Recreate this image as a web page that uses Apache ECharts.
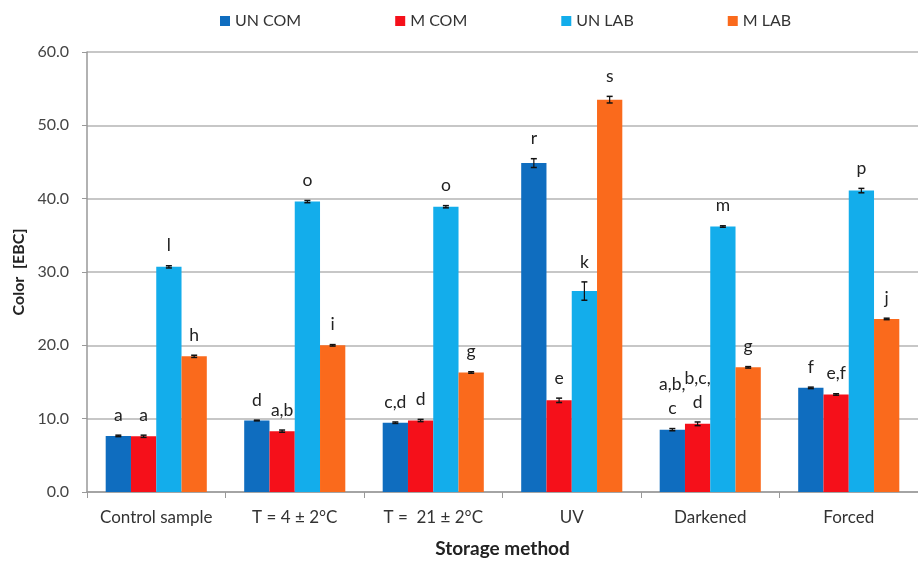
<!DOCTYPE html>
<html>
<head>
<meta charset="utf-8">
<script src="https://cdn.jsdelivr.net/npm/echarts@6/dist/echarts.min.js"></script>
<style>
html,body{margin:0;padding:0;background:#fff;}
#chart{width:918px;height:563px;}
</style>
</head>
<body>
<div id="chart"></div>
<script>
var categories = ['Control sample', 'T = 4 \u00b1 2\u00b0C', 'T =  21 \u00b1 2\u00b0C', 'UV', 'Darkened', 'Forced'];
var seriesNames = ['UN COM', 'M COM', 'UN LAB', 'M LAB'];
var unCom = [7.65, 9.75, 9.45, 44.85, 8.5, 14.2];
var mCom  = [7.6, 8.3, 9.75, 12.5, 9.3, 13.3];
var unLab = [30.7, 39.6, 38.9, 27.4, 36.2, 41.1];
var mLab  = [18.5, 20.0, 16.3, 53.5, 17.0, 23.6];
var unComErr = [0.1, 0.05, 0.1, 0.6, 0.15, 0.1];
var mComErr  = [0.15, 0.15, 0.15, 0.3, 0.25, 0.1];
var unLabErr = [0.15, 0.15, 0.15, 1.25, 0.1, 0.3];
var mLabErr  = [0.15, 0.1, 0.1, 0.45, 0.1, 0.1];
var unComLetters = ['a', 'd', 'c,d', 'r', 'a,b,\nc', 'f'];
var mComLetters  = ['a', 'a,b', 'd', 'e', 'b,c,\nd', 'e,f'];
var unLabLetters = ['l', 'o', 'o', 'k', 'm', 'p'];
var mLabLetters  = ['h', 'i', 'g', 's', 'g', 'j'];
var yTicks = [0, 10, 20, 30, 40, 50, 60];

var colors = ['#0F6DBF', '#F5101A', '#13ADEB', '#FA6A1C'];
var values = [unCom, mCom, unLab, mLab];
var errs = [unComErr, mComErr, unLabErr, mLabErr];
var letters = [unComLetters, mComLetters, unLabLetters, mLabLetters];
var FONT = 'Lato';
var GAP = 0.27;

var series = [];
values.forEach(function (vals, s) {
  series.push({
    name: seriesNames[s],
    type: 'bar',
    data: vals,
    barGap: '0%',
    barCategoryGap: (GAP * 100) + '%',
    itemStyle: { color: colors[s] },
    z: 2
  });
});
values.forEach(function (vals, s) {
  series.push({
    name: seriesNames[s] + ' err',
    type: 'custom',
    z: 5,
    silent: true,
    encode: { x: 0, y: 1 },
    data: vals.map(function (v, i) { return [i, v, errs[s][i]]; }),
    renderItem: function (params, api) {
      var ci = api.value(0), v = api.value(1), e = api.value(2);
      var band = api.size([1, 0])[0];
      var bw = band * (1 - GAP) / 4;
      var off = (s - 1.5) * bw;
      var top = api.coord([ci, v + e]);
      var bot = api.coord([ci, v - e]);
      var x = top[0] + off;
      var cap = 3;
      return {
        type: 'group',
        children: [
          { type: 'line', shape: { x1: x, y1: top[1], x2: x, y2: bot[1] }, style: { stroke: '#111', lineWidth: 1.2 } },
          { type: 'line', shape: { x1: x - cap, y1: top[1], x2: x + cap, y2: top[1] }, style: { stroke: '#111', lineWidth: 1.5 } },
          { type: 'line', shape: { x1: x - cap, y1: bot[1], x2: x + cap, y2: bot[1] }, style: { stroke: '#111', lineWidth: 1.5 } },
          { type: 'text', x: x, y: top[1] - 8,
            style: { text: letters[s][params.dataIndex], fill: '#222', font: '17.5px ' + FONT, align: 'center', verticalAlign: 'bottom', lineHeight: 24 } }
        ]
      };
    }
  });
});

var chart = echarts.init(document.getElementById('chart'));
chart.setOption({
  animation: false,
  textStyle: { fontFamily: FONT },
  legend: {
    data: seriesNames,
    left: 215,
    top: 8,
    itemWidth: 10,
    itemHeight: 10,
    itemGap: 94,
    icon: 'rect',
    textStyle: { fontSize: 16, color: '#333', fontFamily: FONT }
  },
  grid: { left: 87, top: 52, width: 839, height: 448, containLabel: false },
  xAxis: {
    type: 'category',
    data: categories,
    name: 'Storage method',
    nameLocation: 'middle',
    nameGap: 47,
    nameTextStyle: { fontSize: 19, fontWeight: 'bold', color: '#222', fontFamily: FONT },
    axisLine: { lineStyle: { color: '#999', width: 1.5 } },
    axisTick: { show: true, length: 6, lineStyle: { color: '#999' } },
    axisLabel: { interval: 0, fontSize: 17, color: '#333', margin: 17, fontFamily: FONT }
  },
  yAxis: {
    type: 'value',
    min: yTicks[0],
    max: yTicks[yTicks.length - 1],
    interval: 10,
    name: 'Color  [EBC]',
    nameLocation: 'middle',
    nameGap: 60,
    nameTextStyle: { fontSize: 16, fontWeight: 'bold', color: '#222', fontFamily: FONT },
    axisLine: { show: true, lineStyle: { color: '#999', width: 1.5 } },
    axisTick: { show: true, length: 5, lineStyle: { color: '#999' } },
    splitLine: { lineStyle: { color: '#b5b5b5', width: 1.5 } },
    axisLabel: { fontSize: 16, color: '#444', margin: 18, fontFamily: FONT,
      formatter: function (v) { return v.toFixed(1); } }
  },
  series: series
});
</script>
</body>
</html>
